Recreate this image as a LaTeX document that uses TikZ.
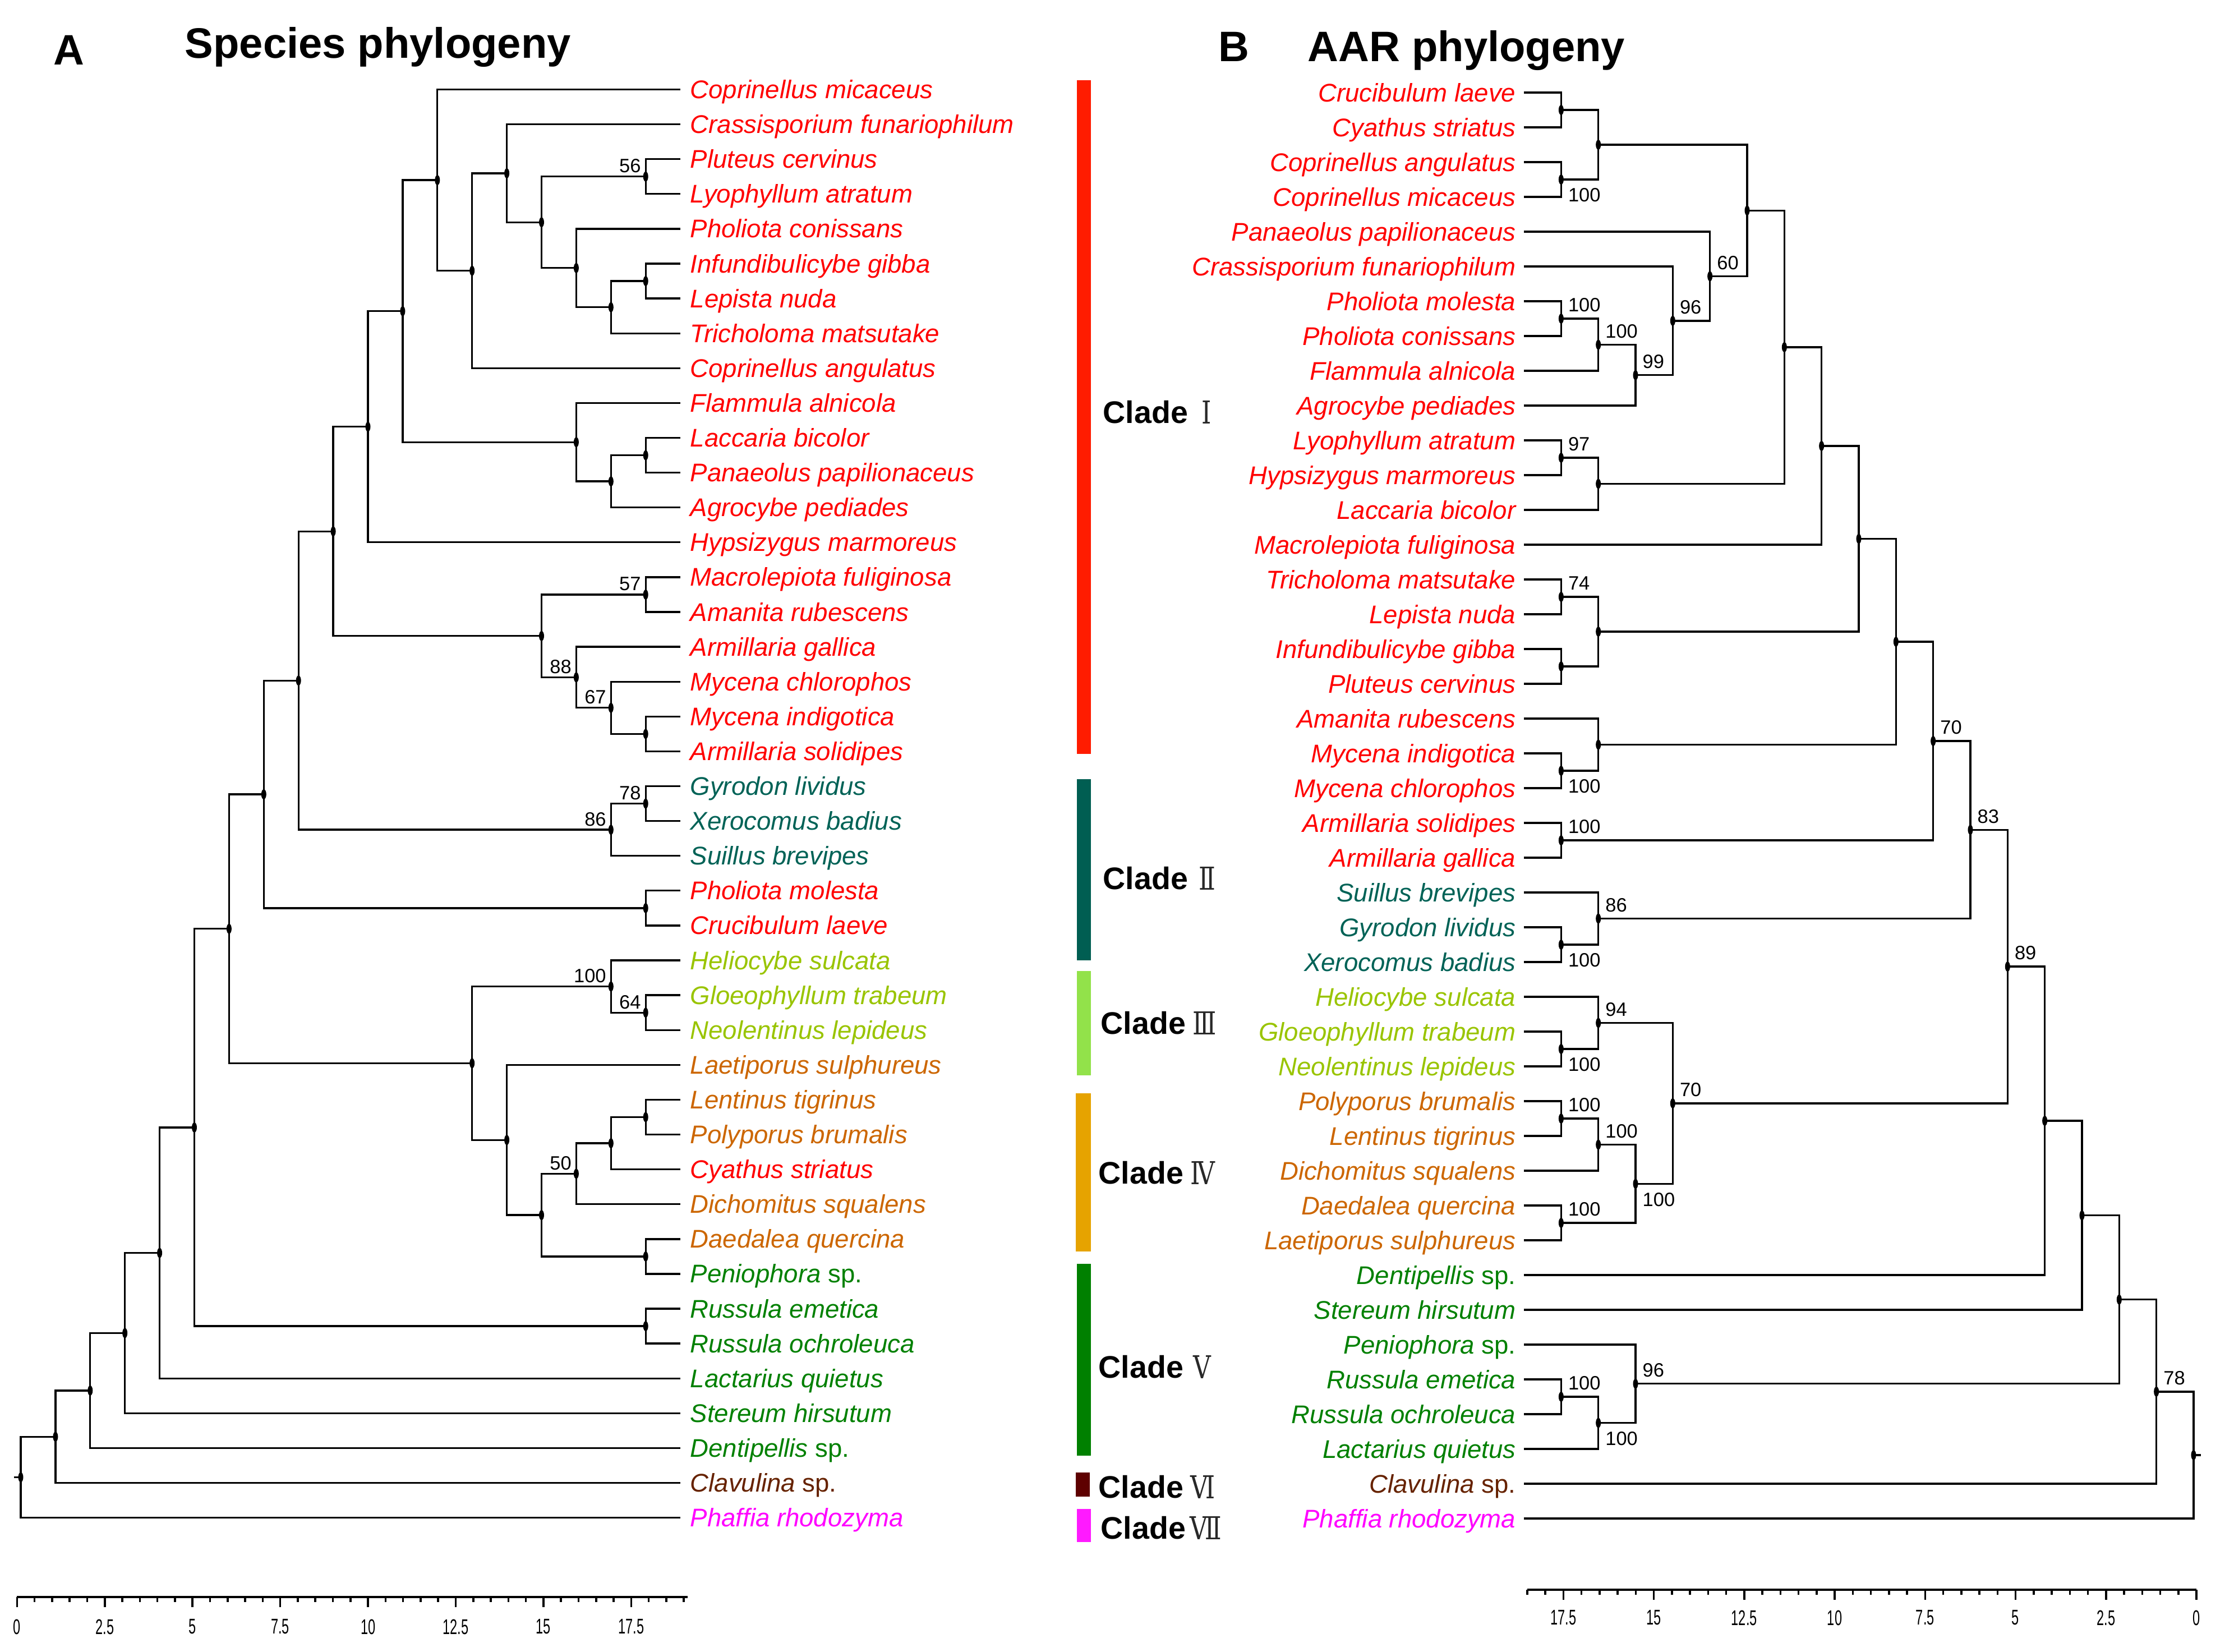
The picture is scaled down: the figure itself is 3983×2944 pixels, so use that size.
\documentclass[tikz,border=0pt]{standalone}
\usepackage{fontspec}
\setmainfont{Liberation Sans}
\newfontfamily\numfont[FakeStretch=0.78]{DejaVu Serif}
\newfontfamily\axisfont[FakeStretch=0.62]{Liberation Sans}
\usetikzlibrary{calc}
\definecolor{cI}{RGB}{255,0,0}
\definecolor{cII}{RGB}{0,98,86}
\definecolor{cIII}{RGB}{153,196,0}
\definecolor{cIV}{RGB}{204,102,0}
\definecolor{cV}{RGB}{0,128,0}
\definecolor{cVI}{RGB}{102,34,0}
\definecolor{cVII}{RGB}{255,0,255}
\definecolor{bI}{RGB}{255,28,0}
\definecolor{bII}{RGB}{0,94,82}
\definecolor{bIII}{RGB}{146,226,74}
\definecolor{bIV}{RGB}{230,163,0}
\definecolor{bV}{RGB}{0,128,0}
\definecolor{bVI}{RGB}{94,0,0}
\definecolor{bVII}{RGB}{255,26,255}
\definecolor{numgray}{RGB}{40,40,40}
\tikzset{
  br/.style={line width=0.95pt},
  sp/.style={inner sep=0pt, font=\fontsize{12.95pt}{15pt}\selectfont\itshape},
  bs/.style={inner sep=0pt, font=\fontsize{9.8pt}{11pt}\selectfont},
  tt/.style={inner sep=0pt, font=\fontsize{21.6pt}{24pt}\selectfont\bfseries},
  cl/.style={inner sep=0pt, font=\fontsize{15.8pt}{18pt}\selectfont\bfseries},
  rn/.style={inner sep=0pt, text=numgray, font=\fontsize{16pt}{18pt}\selectfont\numfont},
  ax/.style={inner sep=0pt, font=\fontsize{10.8pt}{12pt}\selectfont\axisfont},
  axline/.style={line width=1.3pt},
  tick/.style={line width=1pt},
}
\newcommand\ltip[3]{\node[sp, text=#2, anchor=base west] at (1230,{159.5+62.1*(#1-1)+16}) {#3};}
\newcommand\rtip[3]{\node[sp, text=#2, anchor=base east] at (2703,{165+62*(#1-1)+16}) {#3};}
\newcommand\ljoin[4]{%
  \pgfmathsetmacro\tmpy{0.5*(\csname iy#3\endcsname+\csname iy#4\endcsname)}%
  \expandafter\xdef\csname iy#1\endcsname{\tmpy}%
  \coordinate (#1) at ({37+61.9*#2},{159.5+62.1*(\tmpy-1)});
  \draw[br] (#3) -| (#1) |- (#4);
  \fill (#1) ellipse [x radius=0.045cm, y radius=0.09cm];}
\newcommand\rjoin[4]{%
  \pgfmathsetmacro\tmpy{0.5*(\csname iy#3\endcsname+\csname iy#4\endcsname)}%
  \expandafter\xdef\csname iy#1\endcsname{\tmpy}%
  \coordinate (#1) at ({2717+66.33*#2},{165+62*(\tmpy-1)});
  \draw[br] (#3) -| (#1) |- (#4);
  \fill (#1) ellipse [x radius=0.045cm, y radius=0.09cm];}
\newcommand\lbs[2]{\node[bs, anchor=east] at ($(#1)+(-8,-19)$) {#2};}
\newcommand\rbsa[2]{\node[bs, anchor=west] at ($(#1)+(12,-24)$) {#2};}
\newcommand\rbsb[2]{\node[bs, anchor=west] at ($(#1)+(12,28)$) {#2};}
\begin{document}
\begin{tikzpicture}[x=0.01cm, y=-0.01cm]
\useasboundingbox (0,0) rectangle (3983,2944);
% titles
\node[tt, anchor=base west] (tA) at (95,115) {A};
\node[tt, anchor=base west] (tSp) at (329,103) {Species phylogeny};
\node[tt, anchor=base west] (tB) at (2172,109) {B};
\node[tt, anchor=base west] (tAAR) at (2331,109) {AAR phylogeny};
% tip coordinates
\foreach \i in {1,...,42}{
  \coordinate (L\i) at (1213,{159.5+62.1*(\i-1)});
  \expandafter\xdef\csname iyL\i\endcsname{\i}
  \coordinate (R\i) at (2717,{165+62*(\i-1)});
  \expandafter\xdef\csname iyR\i\endcsname{\i}
}
% ---------------- left tree ----------------
\ljoin{a1}{18}{L3}{L4}
\ljoin{a2}{18}{L6}{L7}
\ljoin{a3}{18}{L11}{L12}
\ljoin{a4}{18}{L15}{L16}
\ljoin{a5}{18}{L19}{L20}
\ljoin{a6}{18}{L21}{L22}
\ljoin{a7}{18}{L24}{L25}
\ljoin{a8}{18}{L27}{L28}
\ljoin{a9}{18}{L30}{L31}
\ljoin{a10}{18}{L34}{L35}
\ljoin{a11}{18}{L36}{L37}
\ljoin{b1}{17}{a2}{L8}
\ljoin{b2}{17}{a3}{L13}
\ljoin{b3}{17}{L18}{a5}
\ljoin{b4}{17}{a6}{L23}
\ljoin{b5}{17}{L26}{a8}
\ljoin{b6}{17}{a9}{L32}
\ljoin{c1}{16}{L5}{b1}
\ljoin{c2}{16}{L10}{b2}
\ljoin{c3}{16}{L17}{b3}
\ljoin{c4}{16}{b6}{L33}
\ljoin{d1}{15}{a1}{c1}
\ljoin{d2}{15}{a4}{c3}
\ljoin{d3}{15}{c4}{a10}
\ljoin{e1}{14}{L2}{d1}
\ljoin{e2}{14}{L29}{d3}
\ljoin{f1}{13}{e1}{L9}
\ljoin{f2}{13}{b5}{e2}
\ljoin{g1}{12}{L1}{f1}
\ljoin{h1}{11}{g1}{c2}
\ljoin{i1}{10}{h1}{L14}
\ljoin{j1}{9}{i1}{d2}
\ljoin{k1}{8}{j1}{b4}
\ljoin{l1}{7}{k1}{a7}
\ljoin{m1}{6}{l1}{f2}
\ljoin{n1}{5}{m1}{a11}
\ljoin{o1}{4}{n1}{L38}
\ljoin{p1}{3}{o1}{L39}
\ljoin{q1}{2}{p1}{L40}
\ljoin{r1}{1}{q1}{L41}
\ljoin{s1}{0}{r1}{L42}
\coordinate (lstub) at ($(s1)+(-12,0)$);
\draw[br] (s1) -- (lstub);
\lbs{a1}{56}
\lbs{a4}{57}
\lbs{c3}{88}
\lbs{b3}{67}
\lbs{a6}{78}
\lbs{b4}{86}
\lbs{b5}{100}
\lbs{a8}{64}
\lbs{c4}{50}
% left labels
\ltip{1}{cI}{Coprinellus micaceus}
\ltip{2}{cI}{Crassisporium funariophilum}
\ltip{3}{cI}{Pluteus cervinus}
\ltip{4}{cI}{Lyophyllum atratum}
\ltip{5}{cI}{Pholiota conissans}
\ltip{6}{cI}{Infundibulicybe gibba}
\ltip{7}{cI}{Lepista nuda}
\ltip{8}{cI}{Tricholoma matsutake}
\ltip{9}{cI}{Coprinellus angulatus}
\ltip{10}{cI}{Flammula alnicola}
\ltip{11}{cI}{Laccaria bicolor}
\ltip{12}{cI}{Panaeolus papilionaceus}
\ltip{13}{cI}{Agrocybe pediades}
\ltip{14}{cI}{Hypsizygus marmoreus}
\ltip{15}{cI}{Macrolepiota fuliginosa}
\ltip{16}{cI}{Amanita rubescens}
\ltip{17}{cI}{Armillaria gallica}
\ltip{18}{cI}{Mycena chlorophos}
\ltip{19}{cI}{Mycena indigotica}
\ltip{20}{cI}{Armillaria solidipes}
\ltip{21}{cII}{Gyrodon lividus}
\ltip{22}{cII}{Xerocomus badius}
\ltip{23}{cII}{Suillus brevipes}
\ltip{24}{cI}{Pholiota molesta}
\ltip{25}{cI}{Crucibulum laeve}
\ltip{26}{cIII}{Heliocybe sulcata}
\ltip{27}{cIII}{Gloeophyllum trabeum}
\ltip{28}{cIII}{Neolentinus lepideus}
\ltip{29}{cIV}{Laetiporus sulphureus}
\ltip{30}{cIV}{Lentinus tigrinus}
\ltip{31}{cIV}{Polyporus brumalis}
\ltip{32}{cI}{Cyathus striatus}
\ltip{33}{cIV}{Dichomitus squalens}
\ltip{34}{cIV}{Daedalea quercina}
\ltip{35}{cV}{Peniophora {\upshape sp.}}
\ltip{36}{cV}{Russula emetica}
\ltip{37}{cV}{Russula ochroleuca}
\ltip{38}{cV}{Lactarius quietus}
\ltip{39}{cV}{Stereum hirsutum}
\ltip{40}{cV}{Dentipellis {\upshape sp.}}
\ltip{41}{cVI}{Clavulina {\upshape sp.}}
\ltip{42}{cVII}{Phaffia rhodozyma}
% ---------------- right tree ----------------
\rjoin{RA1}{1}{R1}{R2}
\rjoin{RA2}{1}{R3}{R4}
\rjoin{RA3}{1}{R7}{R8}
\rjoin{RA4}{1}{R11}{R12}
\rjoin{RA5}{1}{R15}{R16}
\rjoin{RA6}{1}{R17}{R18}
\rjoin{RA7}{1}{R20}{R21}
\rjoin{RA8}{1}{R22}{R23}
\rjoin{RA9}{1}{R25}{R26}
\rjoin{RA10}{1}{R28}{R29}
\rjoin{RA11}{1}{R30}{R31}
\rjoin{RA12}{1}{R33}{R34}
\rjoin{RA13}{1}{R38}{R39}
\rjoin{RB1}{2}{RA1}{RA2}
\rjoin{RB2}{2}{RA3}{R9}
\rjoin{RB3}{2}{RA4}{R13}
\rjoin{RB4}{2}{RA5}{RA6}
\rjoin{RB5}{2}{R19}{RA7}
\rjoin{RB6}{2}{R24}{RA9}
\rjoin{RB7}{2}{R27}{RA10}
\rjoin{RB8}{2}{RA11}{R32}
\rjoin{RB9}{2}{RA13}{R40}
\rjoin{RC1}{3}{RB2}{R10}
\rjoin{RC2}{3}{RB8}{RA12}
\rjoin{RC3}{3}{R37}{RB9}
\rjoin{RD1}{4}{R6}{RC1}
\rjoin{RD2}{4}{RB7}{RC2}
\rjoin{RE1}{5}{R5}{RD1}
\rjoin{RF1}{6}{RB1}{RE1}
\rjoin{RG1}{7}{RF1}{RB3}
\rjoin{RH1}{8}{RG1}{R14}
\rjoin{RI1}{9}{RH1}{RB4}
\rjoin{RJ1}{10}{RI1}{RB5}
\rjoin{RK1}{11}{RJ1}{RA8}
\rjoin{RL1}{12}{RK1}{RB6}
\rjoin{RM1}{13}{RL1}{RD2}
\rjoin{RN1}{14}{RM1}{R35}
\rjoin{RO1}{15}{RN1}{R36}
\rjoin{RP1}{16}{RO1}{RC3}
\rjoin{RQ1}{17}{RP1}{R41}
\rjoin{RS1}{18}{RQ1}{R42}
\coordinate (rstub) at ($(RS1)+(13,0)$);
\draw[br] (RS1) -- (rstub);
\rbsb{RA2}{100}
\rbsa{RA3}{100}
\rbsa{RB2}{100}
\rbsa{RC1}{99}
\rbsa{RD1}{96}
\rbsa{RE1}{60}
\rbsa{RA4}{97}
\rbsa{RA5}{74}
\rbsb{RA7}{100}
\rbsa{RK1}{70}
\rbsa{RA8}{100}
\rbsa{RL1}{83}
\rbsb{RA9}{100}
\rbsa{RB6}{86}
\rbsb{RA10}{100}
\rbsa{RB7}{94}
\rbsa{RA11}{100}
\rbsa{RB8}{100}
\rbsa{RA12}{100}
\rbsb{RC2}{100}
\rbsa{RD2}{70}
\rbsa{RM1}{89}
\rbsa{RA13}{100}
\rbsb{RB9}{100}
\rbsa{RC3}{96}
\rbsa{RQ1}{78}
% right labels
\rtip{1}{cI}{Crucibulum laeve}
\rtip{2}{cI}{Cyathus striatus}
\rtip{3}{cI}{Coprinellus angulatus}
\rtip{4}{cI}{Coprinellus micaceus}
\rtip{5}{cI}{Panaeolus papilionaceus}
\rtip{6}{cI}{Crassisporium funariophilum}
\rtip{7}{cI}{Pholiota molesta}
\rtip{8}{cI}{Pholiota conissans}
\rtip{9}{cI}{Flammula alnicola}
\rtip{10}{cI}{Agrocybe pediades}
\rtip{11}{cI}{Lyophyllum atratum}
\rtip{12}{cI}{Hypsizygus marmoreus}
\rtip{13}{cI}{Laccaria bicolor}
\rtip{14}{cI}{Macrolepiota fuliginosa}
\rtip{15}{cI}{Tricholoma matsutake}
\rtip{16}{cI}{Lepista nuda}
\rtip{17}{cI}{Infundibulicybe gibba}
\rtip{18}{cI}{Pluteus cervinus}
\rtip{19}{cI}{Amanita rubescens}
\rtip{20}{cI}{Mycena indigotica}
\rtip{21}{cI}{Mycena chlorophos}
\rtip{22}{cI}{Armillaria solidipes}
\rtip{23}{cI}{Armillaria gallica}
\rtip{24}{cII}{Suillus brevipes}
\rtip{25}{cII}{Gyrodon lividus}
\rtip{26}{cII}{Xerocomus badius}
\rtip{27}{cIII}{Heliocybe sulcata}
\rtip{28}{cIII}{Gloeophyllum trabeum}
\rtip{29}{cIII}{Neolentinus lepideus}
\rtip{30}{cIV}{Polyporus brumalis}
\rtip{31}{cIV}{Lentinus tigrinus}
\rtip{32}{cIV}{Dichomitus squalens}
\rtip{33}{cIV}{Daedalea quercina}
\rtip{34}{cIV}{Laetiporus sulphureus}
\rtip{35}{cV}{Dentipellis {\upshape sp.}}
\rtip{36}{cV}{Stereum hirsutum}
\rtip{37}{cV}{Peniophora {\upshape sp.}}
\rtip{38}{cV}{Russula emetica}
\rtip{39}{cV}{Russula ochroleuca}
\rtip{40}{cV}{Lactarius quietus}
\rtip{41}{cVI}{Clavulina {\upshape sp.}}
\rtip{42}{cVII}{Phaffia rhodozyma}
% ---------------- clade bars ----------------
\fill[bI] (1920,143) rectangle (1945,1344);
\fill[bII] (1920,1389) rectangle (1945,1712);
\fill[bIII] (1920,1731) rectangle (1945,1917);
\fill[bIV] (1918,1949) rectangle (1945,2231);
\fill[bV] (1920,2253) rectangle (1945,2595);
\fill[bVI] (1918,2625) rectangle (1943,2668);
\fill[bVII] (1920,2690) rectangle (1945,2749);
\node[cl, anchor=west] (clI) at (1966,735) {Clade};
\node[rn] (nI) at (2151,735) {Ⅰ};
\node[cl, anchor=west] (clII) at (1966,1566) {Clade};
\node[rn] (nII) at (2152,1566) {Ⅱ};
\node[cl, anchor=west] (clIII) at (1962,1824) {Clade};
\node[rn] (nIII) at (2148,1824) {Ⅲ};
\node[cl, anchor=west] (clIV) at (1958,2091) {Clade};
\node[rn] (nIV) at (2144,2091) {Ⅳ};
\node[cl, anchor=west] (clV) at (1958,2437) {Clade};
\node[rn] (nV) at (2143,2437) {Ⅴ};
\node[cl, anchor=west] (clVI) at (1958,2651) {Clade};
\node[rn] (nVI) at (2145,2651) {Ⅵ};
\node[cl, anchor=west] (clVII) at (1962,2724) {Clade};
\node[rn] (nVII) at (2150,2724) {Ⅶ};
% ---------------- scale axes ----------------
\draw[axline] (30.4,2847) -- (1226,2847);
\foreach \u in {0,0.5,...,19}{\draw[tick] ({30.4+62.57*\u},2847) -- ++(0,9);}
\foreach \u in {0,2.5,5,7.5,10,12.5,15,17.5}{
  \draw[tick] ({30.4+62.57*\u},2847) -- ++(0,18);
  \node[ax] at ({30.4+62.57*\u},2900) {\u};}
\draw[axline] ({3916-64.5*18.5},2834) -- (3916,2834);
\foreach \u in {0,0.5,...,18.5}{\draw[tick] ({3916-64.5*\u},2834) -- ++(0,9);}
\foreach \u in {0,2.5,5,7.5,10,12.5,15,17.5}{
  \draw[tick] ({3916-64.5*\u},2834) -- ++(0,18);
  \node[ax] at ({3916-64.5*\u},2884) {\u};}
\end{tikzpicture}
\end{document}
